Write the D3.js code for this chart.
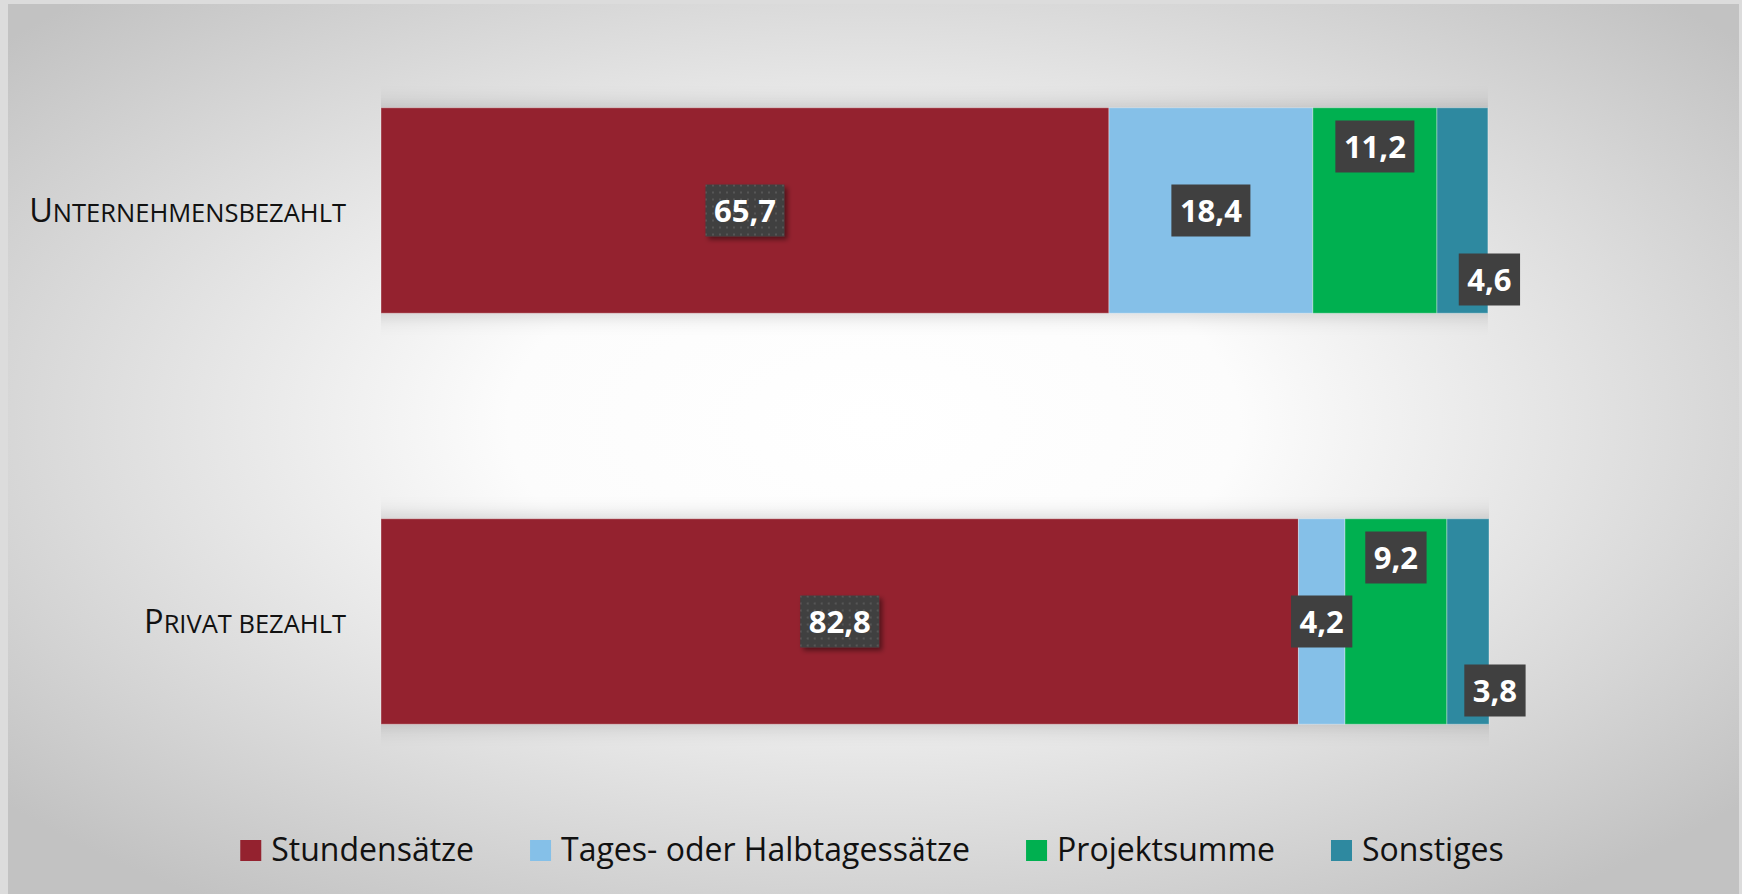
<!DOCTYPE html>
<html>
<head>
<meta charset="utf-8">
<script src="https://cdn.jsdelivr.net/npm/d3@7"></script>
<style>
  html, body { margin: 0; padding: 0; background: #dcdcdc; }
  svg { display: block; }
  text { font-family: "Open Sans", sans-serif; }
</style>
</head>
<body>
<div id="chart"></div>
<script>
// categories (top to bottom) and series values in percent
const categories = ["Unternehmensbezahlt", "Privat bezahlt"];
const seriesNames = ["Stundensätze", "Tages- oder Halbtagessätze", "Projektsumme", "Sonstiges"];
const stundensaetze = [65.7, 82.8];
const tagessaetze = [18.4, 4.2];
const projektsumme = [11.2, 9.2];
const sonstiges = [4.6, 3.8];
const colors = ["#94222f", "#85c0e8", "#00b050", "#2e89a0"];

const width = 1742, height = 894;

const svg = d3.select("#chart").append("svg")
    .attr("width", width)
    .attr("height", height);

const defs = svg.append("defs");

const bg = defs.append("radialGradient")
    .attr("id", "bg")
    .attr("cx", 0.5).attr("cy", 0.47).attr("r", 0.66);
bg.append("stop").attr("offset", 0).attr("stop-color", "#ffffff");
bg.append("stop").attr("offset", 0.32).attr("stop-color", "#fcfcfc");
bg.append("stop").attr("offset", 1).attr("stop-color", "#c2c2c2");

const barShadow = defs.append("filter")
    .attr("id", "barShadow")
    .attr("x", "-5%").attr("y", "-40%").attr("width", "110%").attr("height", "180%");
barShadow.append("feGaussianBlur").attr("stdDeviation", "0 11");

const boxShadow = defs.append("filter")
    .attr("id", "boxShadow")
    .attr("x", "-30%").attr("y", "-40%").attr("width", "160%").attr("height", "180%");
boxShadow.append("feDropShadow")
    .attr("dx", 3).attr("dy", 3).attr("stdDeviation", 2.5)
    .attr("flood-color", "#000").attr("flood-opacity", 0.45);

const dots = defs.append("pattern")
    .attr("id", "dots")
    .attr("patternUnits", "userSpaceOnUse")
    .attr("width", 7).attr("height", 7);
dots.append("rect").attr("width", 7).attr("height", 7).attr("fill", "#404040");
dots.append("rect").attr("x", 2).attr("y", 2).attr("width", 2).attr("height", 2).attr("fill", "#575757");

// panel
svg.append("rect")
    .attr("x", 8).attr("y", 4)
    .attr("width", 1731).attr("height", 890)
    .attr("fill", "url(#bg)");

const x = d3.scaleLinear()
    .domain([0, 100])
    .range([381, 1489]);

const y = d3.scaleBand()
    .domain(categories)
    .range([5, 827])
    .paddingInner(0.5)
    .paddingOuter(0.25);

const table = categories.map((c, i) => ({
    category: c,
    [seriesNames[0]]: stundensaetze[i],
    [seriesNames[1]]: tagessaetze[i],
    [seriesNames[2]]: projektsumme[i],
    [seriesNames[3]]: sonstiges[i]
}));

const stacked = d3.stack().keys(seriesNames)(table);

// soft shadow behind each bar
svg.append("g")
    .selectAll("rect")
    .data(categories)
    .join("rect")
    .attr("x", x(0))
    .attr("y", (d) => y(d))
    .attr("width", (d, i) => x(d3.sum(stacked, (s) => s[i][1] - s[i][0])) - x(0))
    .attr("height", y.bandwidth())
    .attr("fill", "#000")
    .attr("opacity", 0.2)
    .attr("filter", "url(#barShadow)");

svg.append("g")
    .selectAll("g")
    .data(stacked)
    .join("g")
    .attr("fill", (d, i) => colors[i])
    .selectAll("rect")
    .data((d) => d)
    .join("rect")
    .attr("x", (d) => x(d[0]))
    .attr("y", (d) => y(d.data.category))
    .attr("width", (d) => x(d[1]) - x(d[0]))
    .attr("height", y.bandwidth())
    .attr("stroke", "rgba(255,255,255,0.35)")
    .attr("stroke-width", 1);

// category labels, drawn as small caps
const catLabels = svg.append("g")
    .selectAll("text")
    .data(categories)
    .join("text")
    .attr("x", 346)
    .attr("y", (d) => y(d) + y.bandwidth() / 2 + 11)
    .attr("text-anchor", "end")
    .attr("fill", "#111");
catLabels.append("tspan")
    .attr("font-size", 32.5)
    .text((d) => d[0].toUpperCase());
catLabels.append("tspan")
    .attr("font-size", 25.5)
    .text((d) => d.slice(1).toUpperCase());

// data labels
const fmt = (v) => d3.format(".1f")(v).replace(".", ",");
const labelData = [];
stacked.forEach((s, si) => {
    s.forEach((d) => {
        let cx = x((d[0] + d[1]) / 2);
        let cy = y(d.data.category) + y.bandwidth() / 2;
        if (si === 2) cy -= 64;
        if (si === 3) { cx += 27; cy += 69; }
        labelData.push({ si, value: d[1] - d[0], cx, cy });
    });
});

const lab = svg.append("g")
    .selectAll("g")
    .data(labelData)
    .join("g")
    .attr("transform", (d) => `translate(${d.cx},${d.cy})`);

lab.each(function (d) {
    const g = d3.select(this);
    const box = g.append("rect");
    const t = g.append("text")
        .attr("text-anchor", "middle")
        .attr("dy", "0.36em")
        .attr("font-size", 31)
        .attr("font-weight", 700)
        .attr("fill", "#fff")
        .text(fmt(d.value));
    const w = t.node().getComputedTextLength() + 17;
    box.attr("x", -w / 2).attr("y", -26)
        .attr("width", w).attr("height", 52)
        .attr("fill", d.si === 0 ? "url(#dots)" : "#404040");
    if (d.si === 0) box.attr("filter", "url(#boxShadow)");
});

// legend
const legend = svg.append("g").attr("transform", "translate(0,861)");
const items = legend.selectAll("g")
    .data(seriesNames)
    .join("g");
items.append("rect")
    .attr("y", -21)
    .attr("width", 21).attr("height", 21)
    .attr("fill", (d, i) => colors[i]);
items.append("text")
    .attr("x", 31)
    .attr("font-size", 32)
    .attr("fill", "#111")
    .text((d) => d);
let pos = 0;
const offs = [];
items.each(function () {
    offs.push(pos);
    pos += this.getBBox().width + 56;
});
const total = pos - 56;
const start = 872 - total / 2;
items.attr("transform", (d, i) => `translate(${start + offs[i]},0)`);
</script>
</body>
</html>
